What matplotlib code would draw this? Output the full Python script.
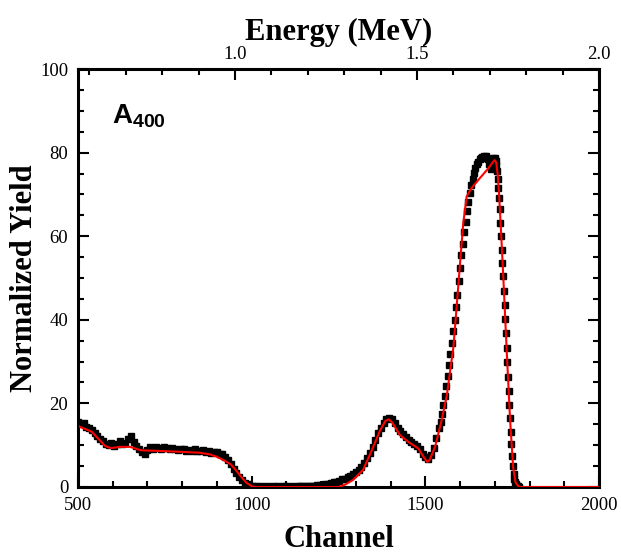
import numpy as np
import matplotlib
matplotlib.use("Agg")
import matplotlib.pyplot as plt
from matplotlib.ticker import MultipleLocator

plt.rcParams['font.family'] = ['Liberation Serif', 'DejaVu Serif']
plt.rcParams['mathtext.fontset'] = 'custom'
plt.rcParams['mathtext.rm'] = 'Liberation Sans'
plt.rcParams['mathtext.bf'] = 'Liberation Sans:bold'

# measured spectrum (channel, normalized yield)
ch_a = np.arange(500, 1537, 8)
y_a = [15.6, 15.0, 15.3, 14.4, 14.0, 13.6, 13.0, 12.2, 11.6, 11.0,
       10.4, 10.0, 10.6, 9.8, 10.4, 10.9, 10.2, 10.6, 11.6, 12.2,
       10.8, 9.8, 9.2, 8.4, 8.0, 8.8, 9.6, 9.2, 9.6, 9.4,
       9.2, 9.6, 9.4, 9.0, 9.3, 9.1, 8.8, 9.2, 9.0, 8.7,
       8.9, 8.6, 9.0, 8.7, 8.5, 8.8, 8.4, 8.6, 8.2, 8.4,
       8.3, 8.0, 7.8, 7.2, 6.4, 5.4, 4.4, 3.4, 2.5, 1.6,
       1.0, 0.6, 0.3, 0.2, 0.2, 0.1, 0.2, 0.1, 0.2, 0.1,
       0.2, 0.1, 0.2, 0.1, 0.2, 0.2, 0.1, 0.2, 0.1, 0.2,
       0.2, 0.2, 0.3, 0.2, 0.3, 0.3, 0.4, 0.4, 0.5, 0.6,
       0.7, 0.9, 1.1, 1.3, 1.5, 1.8, 2.0, 2.3, 2.6, 3.0,
       3.5, 4.1, 4.9, 5.8, 6.9, 8.2, 9.6, 11.2, 12.8, 14.2,
       15.4, 16.3, 16.6, 16.2, 15.3, 14.2, 13.3, 12.6, 12.0, 11.3,
       10.8, 10.3, 9.7, 9.0, 8.0, 7.1, 6.8, 7.6, 9.3, 11.8]
ch_b = np.arange(1540, 1701, 4)
y_b = [14.0, 15.5, 17.4, 19.5, 21.8, 24.2, 26.6, 29.2, 31.8, 34.4,
       37.2, 40.0, 43.0, 46.0, 49.2, 52.4, 55.4, 58.2, 61.0, 63.4,
       66.0, 68.2, 70.4, 72.2, 73.8, 75.2, 76.2, 77.2, 77.8, 78.4,
       78.8, 79.0, 79.2, 78.6, 79.1, 78.4, 77.2, 76.0, 77.4, 78.6,
       78.8]
ch_c = np.arange(1702, 1771, 2)
y_c = [78.0, 77.0, 75.6, 73.8, 71.6, 69.2, 66.4, 63.2, 60.0, 56.8,
       53.6, 50.4, 47.0, 43.6, 40.2, 36.8, 33.2, 29.8, 26.4, 23.0,
       19.6, 16.4, 13.2, 10.2, 7.4, 5.0, 3.2, 2.0, 1.2, 0.8,
       0.5, 0.3, 0.2, 0.1, 0.0]

# simulated fit
fit_ch = [500, 540, 578, 595, 620, 650, 680, 740, 800, 850, 880, 900, 920,
          940, 955, 970, 985, 1000, 1010, 1250, 1270, 1292, 1321, 1350,
          1370, 1385, 1395, 1405, 1427, 1451, 1480, 1495, 1505, 1512, 1528,
          1547, 1562, 1581, 1590, 1600, 1609, 1619, 1633, 1657, 1681, 1695,
          1700, 1704, 1708, 1712, 1718, 1724, 1734, 1744, 1753, 1760, 1770,
          2000]
fit_y = [14.6, 13.2, 9.8, 9.3, 9.6, 9.6, 8.8, 8.6, 8.4, 8.2, 7.8, 7.2, 6.4,
         5.4, 4.0, 2.4, 1.0, 0.2, 0.0, 0.0, 0.6, 1.7, 4.1, 9.6,
         13.6, 15.8, 16.2, 15.4, 12.4, 10.8, 9.2, 7.2, 6.0, 6.4, 9.6,
         16.0, 22.0, 33.6, 43.0, 53.6, 63.0, 69.5, 71.5, 73.9, 76.2, 77.8,
         78.2, 77.6, 75.0, 70.5, 61.0, 51.0, 33.0, 16.0, 4.5, 1.0, 0.0,
         0.0]

ch = np.concatenate([ch_a, ch_b, ch_c])
y = np.concatenate([y_a, y_b, y_c])

fig = plt.figure(figsize=(6.21, 5.57), dpi=100)
ax = fig.add_axes([0.1256, 0.1257, 0.839, 0.7504])

ax.plot(ch, y, 's', color='black', markersize=5, zorder=2)
ax.plot(fit_ch, fit_y, color='red', lw=1.5, zorder=3)

ax.set_xlim(500, 2000)
ax.set_ylim(0, 100)
ax.xaxis.set_major_locator(MultipleLocator(500))
ax.xaxis.set_minor_locator(MultipleLocator(100))
ax.yaxis.set_major_locator(MultipleLocator(20))
ax.yaxis.set_minor_locator(MultipleLocator(5))
ax.tick_params(which='both', direction='in', right=True, width=1.5,
               labelsize=13.5)
ax.tick_params(which='major', length=8, pad=7)
ax.tick_params(which='minor', length=4)
for s in ax.spines.values():
    s.set_linewidth(2.2)

ax.set_xlabel('Channel', fontsize=22, fontweight='bold', labelpad=8)
ax.set_ylabel('Normalized Yield', fontsize=22, fontweight='bold', labelpad=1)

# energy scale on top
e_lo, e_hi = 0.569, 2.0
ax2 = ax.twiny()
ax2.set_xlim(e_lo, e_hi)
ax2.xaxis.set_major_locator(MultipleLocator(0.5))
ax2.xaxis.set_minor_locator(MultipleLocator(0.1))
ax2.xaxis.set_major_formatter(plt.FormatStrFormatter('%.1f'))
ax2.tick_params(which='both', direction='in', width=1.5, labelsize=13.5)
ax2.tick_params(which='major', length=8, pad=4)
ax2.tick_params(which='minor', length=4)
ax2.set_xlabel('Energy (MeV)', fontsize=22, fontweight='bold', labelpad=5)

ax.text(0.065, 0.871, r'$\mathbf{A}_{\mathbf{400}}$', transform=ax.transAxes,
        fontsize=20)

fig.savefig('out.png', dpi=100)
